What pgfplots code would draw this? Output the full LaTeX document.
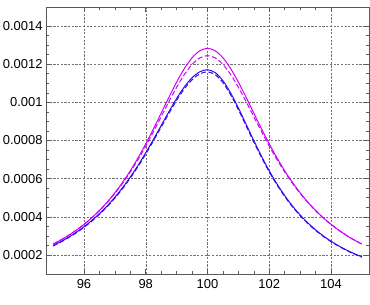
\documentclass[border=0pt]{standalone}
\usepackage{fontspec}
\setmainfont{Liberation Sans}
\usepackage{pgfplots}
\usepackage{pgfplotstable}
\pgfplotsset{compat=1.18}

\definecolor{curvemag}{RGB}{204,0,250}
\definecolor{curveblue}{RGB}{50,10,245}

% x, magenta solid, magenta dashed, blue solid, blue dashed
\pgfplotstableread{
x ms md bs bd
95.00 0.0002566 0.0002570 0.0002492 0.0002469
95.25 0.0002783 0.0002785 0.0002700 0.0002675
95.50 0.0003026 0.0003026 0.0002931 0.0002903
95.75 0.0003298 0.0003296 0.0003189 0.0003159
96.00 0.0003604 0.0003598 0.0003478 0.0003445
96.25 0.0003948 0.0003937 0.0003802 0.0003766
96.50 0.0004334 0.0004317 0.0004164 0.0004125
96.75 0.0004770 0.0004744 0.0004570 0.0004527
97.00 0.0005258 0.0005222 0.0005023 0.0004976
97.25 0.0005805 0.0005756 0.0005527 0.0005475
97.50 0.0006415 0.0006348 0.0006085 0.0006028
97.75 0.0007088 0.0007000 0.0006696 0.0006633
98.00 0.0007823 0.0007708 0.0007357 0.0007288
98.25 0.0008611 0.0008464 0.0008059 0.0007983
98.50 0.0009434 0.0009249 0.0008786 0.0008703
98.75 0.0010264 0.0010038 0.0009511 0.0009422
99.00 0.0011060 0.0010791 0.0010201 0.0010105
99.25 0.0011771 0.0011459 0.0010810 0.0010708
99.50 0.0012336 0.0011989 0.0011292 0.0011186
99.75 0.0012703 0.0012331 0.0011603 0.0011494
100.00 0.0012830 0.0012450 0.0011710 0.0011600
100.25 0.0012703 0.0012331 0.0011561 0.0011452
100.50 0.0012336 0.0011989 0.0011135 0.0011030
100.75 0.0011771 0.0011459 0.0010491 0.0010392
101.00 0.0011060 0.0010791 0.0009705 0.0009614
101.25 0.0010264 0.0010038 0.0008852 0.0008769
101.50 0.0009434 0.0009249 0.0007994 0.0007919
101.75 0.0008611 0.0008464 0.0007172 0.0007105
102.00 0.0007823 0.0007708 0.0006411 0.0006351
102.25 0.0007088 0.0007000 0.0005723 0.0005669
102.50 0.0006415 0.0006348 0.0005111 0.0005063
102.75 0.0005805 0.0005756 0.0004570 0.0004527
103.00 0.0005258 0.0005222 0.0004095 0.0004057
103.25 0.0004770 0.0004744 0.0003680 0.0003645
103.50 0.0004334 0.0004317 0.0003316 0.0003285
103.75 0.0003948 0.0003937 0.0002998 0.0002970
104.00 0.0003604 0.0003598 0.0002720 0.0002694
104.25 0.0003298 0.0003296 0.0002475 0.0002452
104.50 0.0003026 0.0003026 0.0002259 0.0002238
104.75 0.0002783 0.0002785 0.0002068 0.0002049
105.00 0.0002566 0.0002570 0.0001899 0.0001881
}\lineshape

\begin{document}
\begin{tikzpicture}
\path[use as bounding box] (-46bp,-31bp) rectangle (324bp,274bp);
\begin{axis}[
  at={(0,0)}, anchor=south west,
  scale only axis, width=323bp, height=267bp,
  xmin=94.77, xmax=105.23, ymin=0.0001, ymax=0.0015,
  xtick={96,98,100,102,104},
  ytick={0.0002,0.0004,0.0006,0.0008,0.001,0.0012,0.0014},
  minor x tick num=3, minor y tick num=3,
  scaled y ticks=false,
  yticklabel style={/pgf/number format/fixed,/pgf/number format/precision=4},
  /pgf/number format/assume math mode=true,
  tick label style={font=\fontsize{13}{15}\selectfont},
  xticklabel style={yshift=-2bp},
  tick align=inside, tick pos=both,
  major tick length=5bp, minor tick length=3bp,
  every tick/.style={gray!70!black, line width=0.5pt},
  axis line style={gray!70!black, line width=0.6pt},
  grid=major,
  major grid style={gray!90!black, dash pattern=on 2.2pt off 1.5pt, line width=0.4pt},
]
\addplot[curvemag, line width=1pt, smooth] table[x=x,y=ms] {\lineshape};
\addplot[curvemag, line width=1pt, smooth, dash pattern=on 5pt off 2.5pt] table[x=x,y=md] {\lineshape};
\addplot[curveblue, line width=1pt, smooth] table[x=x,y=bs] {\lineshape};
\addplot[curveblue, line width=1pt, smooth, dash pattern=on 5pt off 2.5pt] table[x=x,y=bd] {\lineshape};
\end{axis}
\end{tikzpicture}
\end{document}
